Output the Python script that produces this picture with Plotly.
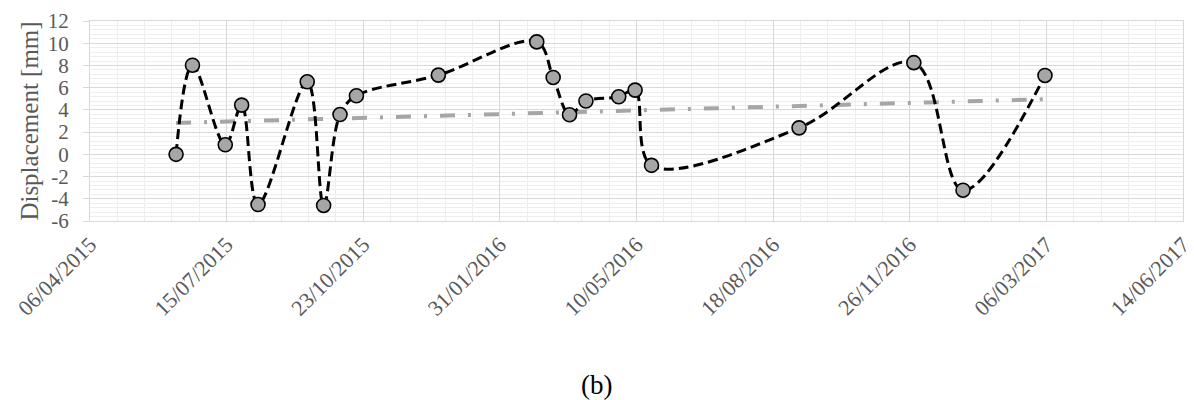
import numpy as np
import pandas as pd
import plotly.graph_objects as go

# ---- data ----
dates = [
    "2015-06-08", "2015-06-20", "2015-07-14", "2015-07-26", "2015-08-07",
    "2015-09-12", "2015-09-24", "2015-10-06", "2015-10-18", "2015-12-17",
    "2016-02-27", "2016-03-10", "2016-03-22", "2016-04-03", "2016-04-27",
    "2016-05-09", "2016-05-21", "2016-09-06", "2016-11-29", "2017-01-04",
    "2017-03-05",
]
displacement = [
    0.0, 8.02, 0.86, 4.43, -4.52,
    6.53, -4.6, 3.58, 5.27, 7.13,
    10.12, 6.92, 3.56, 4.8, 5.18,
    5.78, -0.99, 2.38, 8.25, -3.23,
    7.1,
]
tick_dates = [
    "2015-04-06", "2015-07-15", "2015-10-23", "2016-01-31", "2016-05-10",
    "2016-08-18", "2016-11-26", "2017-03-06", "2017-06-14",
]
tick_labels = [
    "06/04/2015", "15/07/2015", "23/10/2015", "31/01/2016", "10/05/2016",
    "18/08/2016", "26/11/2016", "06/03/2017", "14/06/2017",
]
y_tick_vals = [-6, -4, -2, 0, 2, 4, 6, 8, 10, 12]
y_tick_labels = ["-6", "-4", "-2", "0", "2", "4", "6", "8", "10", "12"]

# linear trend (as in spreadsheet trendline)
d = pd.to_datetime(dates)
days = np.array([(t - d[0]).days for t in d], dtype=float)
slope, intercept = np.polyfit(days, np.array(displacement), 1)
trend_x = [dates[0], dates[-1]]
trend_y = [intercept, intercept + slope * days[-1]]

GRID = "#d9d9d9"
MINOR = "#eeeeee"
TXT = "#595959"
FONT = "Liberation Serif"

fig = go.Figure()
fig.add_trace(go.Scatter(
    x=trend_x, y=trend_y, mode="lines",
    line=dict(color="#a6a6a6", width=4, dash="15px,13px,3px,13px"),
    showlegend=False, hoverinfo="skip",
))
fig.add_trace(go.Scatter(
    x=dates, y=displacement, mode="lines+markers",
    line=dict(color="black", width=3, dash="10px,5px", shape="spline", smoothing=1),
    marker=dict(size=14, color="#a6a6a6", line=dict(color="black", width=1.6)),
    showlegend=False,
))

fig.update_layout(
    width=1194, height=400,
    margin=dict(l=90, r=11, t=21, b=179),
    paper_bgcolor="white", plot_bgcolor="white",
    font=dict(family=FONT, color=TXT),
)
fig.update_xaxes(
    type="date", automargin=False,
    range=[tick_dates[0], tick_dates[-1] + " 00:30"],
    tickmode="array", tickvals=tick_dates, ticktext=tick_labels,
    tickangle=-45, tickfont=dict(size=22, color=TXT, family=FONT),
    ticklabeloverflow="allow",
    showgrid=True, gridcolor=GRID, gridwidth=1,
    minor=dict(tickmode="linear", tick0=tick_dates[0], dtick=20 * 86400000,
               showgrid=True, gridcolor=MINOR, gridwidth=1),
    showline=True, linecolor=GRID, linewidth=1, mirror=True,
    ticks="", ticklabelstandoff=1,
    zeroline=False,
)
fig.update_yaxes(
    automargin=False,
    range=[-6, 12],
    tickmode="array", tickvals=y_tick_vals, ticktext=y_tick_labels,
    tickfont=dict(size=21, color=TXT, family=FONT),
    showgrid=True, gridcolor=GRID, gridwidth=1,
    minor=dict(tickmode="linear", tick0=-6, dtick=0.4,
               showgrid=True, gridcolor=MINOR, gridwidth=1),
    showline=True, linecolor=GRID, linewidth=1, mirror=True,
    ticks="outside", ticklen=6, tickcolor=GRID, ticklabelstandoff=10,
    zeroline=False,
    title=dict(text="Displacement [mm]", font=dict(size=25, color=TXT, family=FONT), standoff=2),
)
fig.add_annotation(
    text="(b)", xref="paper", yref="paper", x=0.463, y=-0.82,
    xanchor="center", yanchor="middle", showarrow=False,
    font=dict(size=27, color="black", family=FONT),
)
fig.write_html("out.html")
